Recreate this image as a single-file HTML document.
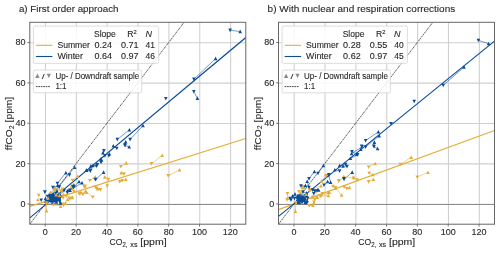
<!DOCTYPE html>
<html><head><meta charset="utf-8"><style>
html,body{margin:0;padding:0;background:#fff;width:500px;height:253px;overflow:hidden}
svg{display:block;will-change:transform}
text{font-family:"Liberation Sans",sans-serif;fill:#262626;stroke:#262626;stroke-width:0.1px}
</style></head><body>
<svg width="500" height="253" viewBox="0 0 500 253">
<clipPath id="c29"><rect x="29.8" y="22.3" width="216" height="201.9"/></clipPath>
<path d="M45.48 22.3V224.2M76.34 22.3V224.2M107.19 22.3V224.2M138.05 22.3V224.2M168.91 22.3V224.2M199.76 22.3V224.2M230.62 22.3V224.2M29.8 204.26H245.8M29.8 163.88H245.8M29.8 123.5H245.8M29.8 83.12H245.8M29.8 42.74H245.8" stroke="#cfcfcf" stroke-width="1.05" fill="none"/>
<g clip-path="url(#c29)">
<path d="M29.8 204.5H245.8" stroke="#8c8c8c" stroke-width="1" fill="none"/>
<path d="M29.8 206.33L245.8 138.49" stroke="#e4ad38" stroke-width="1.15" fill="none"/>
<path d="M29.8 217.9L245.8 37.56" stroke="#0b4c99" stroke-width="1.15" fill="none"/>
<path d="M29.8 224.2L184.09 22.3" stroke="#2a2a2a" stroke-width="0.75" stroke-dasharray="2.3 0.5 1.2 0.8" fill="none"/>
<path d="M230.1 30.3L240.2 31.5M215.6 58.5L193.9 79.3M193.8 91.6L197.4 98.2M129.4 129.8L117.3 139.5M143.0 125.6L130.1 139.5M125.7 141.9L124.7 144.9M129.2 146.9L125.0 145.6M113.3 145.9L116.8 148.4M103.9 150.8L102.9 152.8M109.4 153.8L108.9 155.8M104.9 155.8L100.9 158.8M101.6 160.0L101.0 162.4M97.4 164.8L90.8 166.0M90.8 170.2L86.6 170.2M92.8 165.6L96.4 166.2M86.2 170.4L90.4 171.0M103.6 172.2L95.8 179.4M74.6 167.3L58.8 186.6M65.9 172.7L57.4 183.4M79.0 181.6L73.7 187.5M82.0 182.8L70.0 190.2M70.1 190.2L73.0 186.8M73.9 185.0L67.3 192.5M49.0 195.0L51.5 197.0M53.0 194.5L55.5 197.5M48.5 200.0L51.0 201.5M54.0 201.0L56.5 202.0M58.5 195.5L58.0 199.5M50.5 198.5L53.0 202.5M55.0 196.0L59.5 201.5M47.0 202.0L45.5 198.5M52.0 199.5L56.0 193.5M60.5 197.5L60.5 203.0M53.1 187.8L57.8 185.4M64.0 190.7L60.1 194.7" stroke="#0b4c99" stroke-opacity="0.7" stroke-width="0.8" fill="none"/>
<path d="M179.6 169.8L168.2 175.8M162.2 155.4L151.4 163.8M126.2 163.0L120.8 166.6M121.2 172.7L124.0 174.0M125.8 179.4L119.8 181.8M104.8 177.0L108.4 179.4M95.2 177.0L89.8 180.6M77.8 176.2L72.5 180.4M85.6 190.8L92.8 197.2M95.5 187.0L98.0 188.8M79.2 194.0L81.0 192.5M70.0 198.5L67.5 199.5M62.0 204.0L65.5 203.0M54.4 189.0L62.8 190.8M50.2 193.5L55.0 188.3M61.1 191.1L55.9 194.9M46.6 210.8L46.4 203.9M53.1 204.4L60.6 206.3M63.5 205.3L65.4 203.4M63.5 194.4L66.3 196.3M69.2 198.2L72.0 197.3M72.0 187.8L73.9 191.6M62.5 189.2L50.6 192.3M46.7 203.0L53.4 203.8M80.4 193.4L86.4 192.2" stroke="#e4ad38" stroke-opacity="0.7" stroke-width="0.8" fill="none"/>
<path d="M177.8 171.5L179.6 167.9L181.4 171.5ZM170.0 174.1L168.2 177.7L166.4 174.1ZM160.4 157.1L162.2 153.5L164.0 157.1ZM153.2 162.1L151.4 165.7L149.6 162.1ZM124.4 164.7L126.2 161.1L128.0 164.7ZM122.6 164.9L120.8 168.5L119.0 164.9ZM119.4 174.4L121.2 170.8L123.0 174.4ZM125.8 172.3L124.0 175.9L122.2 172.3ZM124.0 181.1L125.8 177.5L127.6 181.1ZM121.6 180.1L119.8 183.7L118.0 180.1ZM124.0 178.9L122.2 182.5L120.4 178.9ZM103.0 178.7L104.8 175.1L106.6 178.7ZM110.2 177.7L108.4 181.3L106.6 177.7ZM109.0 184.3L107.2 187.9L105.4 184.3ZM93.4 178.7L95.2 175.1L97.0 178.7ZM91.6 178.9L89.8 182.5L88.0 178.9ZM76.0 177.9L77.8 174.3L79.6 177.9ZM74.3 178.7L72.5 182.3L70.7 178.7ZM70.1 186.8L71.9 183.2L73.7 186.8ZM83.8 192.5L85.6 188.9L87.4 192.5ZM94.6 195.5L92.8 199.1L91.0 195.5ZM83.0 187.7L84.8 184.1L86.6 187.7ZM97.3 185.3L95.5 188.9L93.7 185.3ZM96.2 190.5L98.0 186.9L99.8 190.5ZM102.3 188.1L100.5 191.7L98.7 188.1ZM70.0 188.3L71.8 184.7L73.6 188.3ZM86.2 184.9L84.4 188.5L82.6 184.9ZM81.0 192.3L79.2 195.9L77.4 192.3ZM79.2 194.2L81.0 190.6L82.8 194.2ZM84.8 192.8L83.0 196.4L81.2 192.8ZM71.8 196.8L70.0 200.4L68.2 196.8ZM65.7 201.2L67.5 197.6L69.3 201.2ZM70.7 199.2L72.5 195.6L74.3 199.2ZM63.8 202.3L62.0 205.9L60.2 202.3ZM63.7 204.7L65.5 201.1L67.3 204.7ZM98.2 186.7L96.4 190.3L94.6 186.7ZM52.6 190.7L54.4 187.1L56.2 190.7ZM64.6 189.1L62.8 192.7L61.0 189.1ZM40.6 193.7L38.8 197.3L37.0 193.7ZM36.1 201.3L37.9 197.7L39.7 201.3ZM48.4 195.2L50.2 191.6L52.0 195.2ZM56.8 186.6L55.0 190.2L53.2 186.6ZM62.9 189.4L61.1 193.0L59.3 189.4ZM54.1 196.6L55.9 193.0L57.7 196.6ZM44.8 212.5L46.6 208.9L48.4 212.5ZM48.2 202.2L46.4 205.8L44.6 202.2ZM54.9 202.7L53.1 206.3L51.3 202.7ZM58.8 208.0L60.6 204.4L62.4 208.0ZM65.3 203.6L63.5 207.2L61.7 203.6ZM63.6 205.1L65.4 201.5L67.2 205.1ZM61.7 196.1L63.5 192.5L65.3 196.1ZM68.1 194.6L66.3 198.2L64.5 194.6ZM71.0 196.5L69.2 200.1L67.4 196.5ZM70.2 199.0L72.0 195.4L73.8 199.0ZM70.2 189.5L72.0 185.9L73.8 189.5ZM75.7 189.9L73.9 193.5L72.1 189.9ZM82.2 191.7L80.4 195.3L78.6 191.7ZM84.6 193.9L86.4 190.3L88.2 193.9ZM87.0 184.5L85.2 188.1L83.4 184.5Z" fill="#e4ad38"/>
<path d="M47.5 197.0L50.0 194.8L54.0 194.2L57.5 195.0L58.5 198.5L57.5 202.0L53.0 202.6L49.0 202.0Z" fill="#0b4c99"/>
<path d="M231.9 28.6L230.1 32.2L228.3 28.6ZM238.4 33.2L240.2 29.6L242.0 33.2ZM213.8 60.2L215.6 56.6L217.4 60.2ZM195.7 77.6L193.9 81.2L192.1 77.6ZM195.6 89.9L193.8 93.5L192.0 89.9ZM195.6 99.9L197.4 96.3L199.2 99.9ZM167.6 96.9L165.8 100.5L164.0 96.9ZM127.6 131.5L129.4 127.9L131.2 131.5ZM119.1 137.8L117.3 141.4L115.5 137.8ZM141.2 127.3L143.0 123.7L144.8 127.3ZM131.9 137.8L130.1 141.4L128.3 137.8ZM123.9 143.6L125.7 140.0L127.5 143.6ZM126.5 143.2L124.7 146.8L122.9 143.2ZM127.4 148.6L129.2 145.0L131.0 148.6ZM126.8 143.9L125.0 147.5L123.2 143.9ZM111.5 147.6L113.3 144.0L115.1 147.6ZM118.6 146.7L116.8 150.3L115.0 146.7ZM105.7 149.1L103.9 152.7L102.1 149.1ZM101.1 154.5L102.9 150.9L104.7 154.5ZM107.6 155.5L109.4 151.9L111.2 155.5ZM110.7 154.1L108.9 157.7L107.1 154.1ZM106.7 154.1L104.9 157.7L103.1 154.1ZM99.1 160.5L100.9 156.9L102.7 160.5ZM99.8 161.7L101.6 158.1L103.4 161.7ZM102.8 160.7L101.0 164.3L99.2 160.7ZM99.2 163.1L97.4 166.7L95.6 163.1ZM89.0 167.7L90.8 164.1L92.6 167.7ZM92.6 168.5L90.8 172.1L89.0 168.5ZM84.8 171.9L86.6 168.3L88.4 171.9ZM91.0 167.3L92.8 163.7L94.6 167.3ZM98.2 164.5L96.4 168.1L94.6 164.5ZM84.4 172.1L86.2 168.5L88.0 172.1ZM92.2 169.3L90.4 172.9L88.6 169.3ZM101.8 173.9L103.6 170.3L105.4 173.9ZM97.6 177.7L95.8 181.3L94.0 177.7ZM72.8 169.0L74.6 165.4L76.4 169.0ZM60.6 184.9L58.8 188.5L57.0 184.9ZM64.1 174.4L65.9 170.8L67.7 174.4ZM59.2 181.7L57.4 185.3L55.6 181.7ZM71.3 173.3L69.5 176.9L67.7 173.3ZM77.2 183.3L79.0 179.7L80.8 183.3ZM75.5 185.8L73.7 189.4L71.9 185.8ZM80.2 184.5L82.0 180.9L83.8 184.5ZM71.8 188.5L70.0 192.1L68.2 188.5ZM54.7 185.8L52.9 189.4L51.1 185.8ZM46.6 190.3L44.8 193.9L43.0 190.3ZM97.0 177.7L95.2 181.3L93.4 177.7ZM70.0 189.4L68.2 193.0L66.4 189.4ZM68.3 191.9L70.1 188.3L71.9 191.9ZM74.8 185.1L73.0 188.7L71.2 185.1ZM72.1 186.7L73.9 183.1L75.7 186.7ZM69.1 190.8L67.3 194.4L65.5 190.8ZM47.2 196.7L49.0 193.1L50.8 196.7ZM53.3 195.3L51.5 198.9L49.7 195.3ZM54.8 192.8L53.0 196.4L51.2 192.8ZM53.7 199.2L55.5 195.6L57.3 199.2ZM46.7 201.7L48.5 198.1L50.3 201.7ZM52.8 199.8L51.0 203.4L49.2 199.8ZM55.8 199.3L54.0 202.9L52.2 199.3ZM54.7 203.7L56.5 200.1L58.3 203.7ZM56.7 197.2L58.5 193.6L60.3 197.2ZM59.8 197.8L58.0 201.4L56.2 197.8ZM52.3 196.8L50.5 200.4L48.7 196.8ZM51.2 204.2L53.0 200.6L54.8 204.2ZM53.2 197.7L55.0 194.1L56.8 197.7ZM61.3 199.8L59.5 203.4L57.7 199.8ZM48.8 200.3L47.0 203.9L45.2 200.3ZM43.7 200.2L45.5 196.6L47.3 200.2ZM50.2 201.2L52.0 197.6L53.8 201.2ZM57.8 191.8L56.0 195.4L54.2 191.8ZM62.3 195.8L60.5 199.4L58.7 195.8ZM58.7 204.7L60.5 201.1L62.3 204.7ZM46.9 190.2L45.1 193.8L43.3 190.2ZM43.0 198.5L41.2 202.1L39.4 198.5ZM54.9 186.1L53.1 189.7L51.3 186.1ZM56.0 187.1L57.8 183.5L59.6 187.1ZM61.0 185.6L59.2 189.2L57.4 185.6ZM65.8 189.0L64.0 192.6L62.2 189.0ZM58.3 196.4L60.1 192.8L61.9 196.4ZM55.2 192.7L57.0 189.1L58.8 192.7ZM48.2 195.7L50.0 192.1L51.8 195.7ZM59.3 194.8L57.5 198.4L55.7 194.8ZM49.7 198.2L51.5 194.6L53.3 198.2ZM56.8 197.3L55.0 200.9L53.2 197.3ZM55.2 201.2L57.0 197.6L58.8 201.2ZM50.8 197.3L49.0 200.9L47.2 197.3ZM52.2 199.7L54.0 196.1L55.8 199.7ZM53.8 193.3L52.0 196.9L50.2 193.3ZM57.2 199.7L59.0 196.1L60.8 199.7ZM49.3 194.8L47.5 198.4L45.7 194.8ZM44.2 202.7L46.0 199.1L47.8 202.7ZM58.3 198.8L56.5 202.4L54.7 198.8Z" fill="#0b4c99"/>
<path d="M64.3 187.5L62.5 191.1L60.7 187.5ZM48.8 194.0L50.6 190.4L52.4 194.0ZM56.4 187.5L54.6 191.1L52.8 187.5ZM57.7 197.2L59.5 193.6L61.3 197.2ZM64.8 196.3L63.0 199.9L61.2 196.3ZM46.2 199.7L48.0 196.1L49.8 199.7ZM54.4 196.4L56.2 192.8L58.0 196.4ZM48.5 201.3L46.7 204.9L44.9 201.3ZM51.6 205.5L53.4 201.9L55.2 205.5Z" fill="#e4ad38"/>
</g>
<rect x="29.8" y="22.3" width="216" height="201.9" fill="none" stroke="#666" stroke-width="1.0"/>
<path d="M45.23 224.2V226.6M76.09 224.2V226.6M106.94 224.2V226.6M137.8 224.2V226.6M168.66 224.2V226.6M199.51 224.2V226.6M230.37 224.2V226.6M29.8 204.01H27.4M29.8 163.63H27.4M29.8 123.25H27.4M29.8 82.87H27.4M29.8 42.49H27.4" stroke="#666" stroke-width="0.9" fill="none"/>
<text x="45.23" y="235.1" font-size="8.6" text-anchor="middle" textLength="5" lengthAdjust="spacingAndGlyphs">0</text>
<text x="76.09" y="235.1" font-size="8.6" text-anchor="middle" textLength="10" lengthAdjust="spacingAndGlyphs">20</text>
<text x="106.94" y="235.1" font-size="8.6" text-anchor="middle" textLength="10" lengthAdjust="spacingAndGlyphs">40</text>
<text x="137.8" y="235.1" font-size="8.6" text-anchor="middle" textLength="10" lengthAdjust="spacingAndGlyphs">60</text>
<text x="168.66" y="235.1" font-size="8.6" text-anchor="middle" textLength="10" lengthAdjust="spacingAndGlyphs">80</text>
<text x="199.51" y="235.1" font-size="8.6" text-anchor="middle" textLength="15" lengthAdjust="spacingAndGlyphs">100</text>
<text x="230.37" y="235.1" font-size="8.6" text-anchor="middle" textLength="15" lengthAdjust="spacingAndGlyphs">120</text>
<text x="25.6" y="207.01" font-size="8.6" text-anchor="end" textLength="5" lengthAdjust="spacingAndGlyphs">0</text>
<text x="25.6" y="166.63" font-size="8.6" text-anchor="end" textLength="10" lengthAdjust="spacingAndGlyphs">20</text>
<text x="25.6" y="126.25" font-size="8.6" text-anchor="end" textLength="10" lengthAdjust="spacingAndGlyphs">40</text>
<text x="25.6" y="85.87" font-size="8.6" text-anchor="end" textLength="10" lengthAdjust="spacingAndGlyphs">60</text>
<text x="25.6" y="45.49" font-size="8.6" text-anchor="end" textLength="10" lengthAdjust="spacingAndGlyphs">80</text>
<text x="109.5" y="245.2" font-size="9.0" textLength="12.9" lengthAdjust="spacingAndGlyphs">CO</text>
<text x="122.5" y="246.9" font-size="6.4" textLength="5" lengthAdjust="spacingAndGlyphs">2,</text>
<text x="130.3" y="246.9" font-size="6.4" textLength="7.2" lengthAdjust="spacingAndGlyphs">xs</text>
<text x="140.3" y="245.2" font-size="9.0" textLength="26.3" lengthAdjust="spacingAndGlyphs">[ppm]</text>
<g transform="translate(11.9 150.2) rotate(-90)"><text x="0" y="0" font-size="9.0" textLength="20.9" lengthAdjust="spacingAndGlyphs">ffCO</text><text x="21.1" y="1.7" font-size="6.4" textLength="3.6" lengthAdjust="spacingAndGlyphs">2</text><text x="27.8" y="0" font-size="9.0" textLength="25.6" lengthAdjust="spacingAndGlyphs">[ppm]</text></g>
<text x="18.9" y="11.6" font-size="9.0" textLength="99.6" lengthAdjust="spacingAndGlyphs">a) First order approach</text>
<rect x="33.4" y="26.1" width="125.3" height="37.3" rx="1.5" fill="#fff" fill-opacity="0.86" stroke="#d4d4d4" stroke-width="0.8"/>
<text x="94" y="36.6" font-size="8.4" textLength="21.8" lengthAdjust="spacingAndGlyphs">Slope</text>
<text x="127.3" y="36.6" font-size="8.4" textLength="9.5" lengthAdjust="spacingAndGlyphs">R<tspan font-size="5.6" dy="-3.0">2</tspan></text>
<text x="145.4" y="36.6" font-size="8.4" textLength="6.5" lengthAdjust="spacingAndGlyphs" font-style="italic">N</text>
<path d="M35.9 45.3H52.4" stroke="#e4ad38" stroke-width="1.1"/>
<text x="57.4" y="47.8" font-size="8.4" textLength="32.6" lengthAdjust="spacingAndGlyphs">Summer</text>
<text x="94.4" y="47.8" font-size="8.4" textLength="17.6" lengthAdjust="spacingAndGlyphs">0.24</text>
<text x="121" y="47.8" font-size="8.4" textLength="17.6" lengthAdjust="spacingAndGlyphs">0.71</text>
<text x="145.6" y="47.8" font-size="8.4" textLength="9.4" lengthAdjust="spacingAndGlyphs">41</text>
<path d="M35.9 56.5H52.4" stroke="#0b4c99" stroke-width="1.1"/>
<text x="57.4" y="59" font-size="8.4" textLength="25.6" lengthAdjust="spacingAndGlyphs">Winter</text>
<text x="94.4" y="59" font-size="8.4" textLength="17.6" lengthAdjust="spacingAndGlyphs">0.64</text>
<text x="121" y="59" font-size="8.4" textLength="17.6" lengthAdjust="spacingAndGlyphs">0.97</text>
<text x="145.6" y="59" font-size="8.4" textLength="9.4" lengthAdjust="spacingAndGlyphs">46</text>
<rect x="33.4" y="70.1" width="108.3" height="22.7" rx="1.5" fill="#fff" fill-opacity="0.86" stroke="#d4d4d4" stroke-width="0.8"/>
<path d="M35.2 78L37.4 73.6L39.6 78Z" fill="#8a8a8a"/>
<path d="M46.7 73.7L48.8 77.9L50.9 73.7Z" fill="#8a8a8a"/>
<text x="42.1" y="78.7" font-size="7.2" font-weight="bold" font-style="italic">/</text>
<text x="55.4" y="78.6" font-size="8.4" textLength="83.8" lengthAdjust="spacingAndGlyphs">Up- / Downdraft sample</text>
<path d="M35.9 86.6H50.6" stroke="#333" stroke-width="0.9" stroke-dasharray="1.7 0.75"/>
<text x="55.4" y="88.8" font-size="8.4" textLength="11" lengthAdjust="spacingAndGlyphs">1:1</text>
<clipPath id="c278"><rect x="278.5" y="22.3" width="216" height="201.9"/></clipPath>
<path d="M294.18 22.3V224.2M325.04 22.3V224.2M355.89 22.3V224.2M386.75 22.3V224.2M417.61 22.3V224.2M448.46 22.3V224.2M479.32 22.3V224.2M278.5 204.26H494.5M278.5 163.88H494.5M278.5 123.5H494.5M278.5 83.12H494.5M278.5 42.74H494.5" stroke="#cfcfcf" stroke-width="1.05" fill="none"/>
<g clip-path="url(#c278)">
<path d="M278.5 204.5H494.5" stroke="#8c8c8c" stroke-width="1" fill="none"/>
<path d="M278.5 209.66L494.5 130.52" stroke="#e4ad38" stroke-width="1.15" fill="none"/>
<path d="M278.5 216.33L494.5 41.08" stroke="#0b4c99" stroke-width="1.15" fill="none"/>
<path d="M278.5 224.2L432.79 22.3" stroke="#2a2a2a" stroke-width="0.75" stroke-dasharray="2.3 0.5 1.2 0.8" fill="none"/>
<path d="M478.4 40.4L488.6 43.6M464.0 67.0L443.2 85.4M378.4 131.8L365.6 140.6M379.2 135.8L365.6 147.0M374.4 142.2L373.6 146.2M377.6 148.6L374.0 146.8M361.6 146.2L360.8 149.4M352.0 151.8L356.8 154.2M362.0 146.8L351.6 153.6M357.6 154.8L350.4 158.4M345.6 164.4L339.6 165.6M339.6 171.0L334.8 169.8M323.4 165.6L318.0 173.4M314.4 171.6L309.0 178.8M352.2 172.2L344.0 179.4M343.0 166.0L347.0 166.5M312.6 190.0L318.6 190.0M324.0 185.2L327.6 181.6M330.6 182.2L328.8 175.6M292.5 196.0L294.5 198.5M291.0 200.0L295.0 194.0M303.0 192.0L306.5 193.0M301.0 186.0L305.5 185.5M309.0 187.5L307.2 181.4M314.7 191.0L317.3 190.0" stroke="#0b4c99" stroke-opacity="0.7" stroke-width="0.8" fill="none"/>
<path d="M428.0 172.3L417.2 177.1M411.2 157.2L400.4 164.4M375.2 163.6L368.6 167.2M369.2 173.2L372.8 174.6M373.4 179.4L368.6 181.8M353.6 177.6L357.2 180.0M344.0 177.0L338.6 181.2M346.8 188.6L349.6 187.6M326.4 175.6L321.6 181.0M321.0 185.8L310.2 190.0M287.4 193.6L287.4 198.4M300.6 193.0L304.2 187.6M313.2 197.2L317.4 197.2M321.0 196.0L329.4 192.4M333.0 186.4L335.4 188.2M335.6 187.8L341.6 195.0M295.8 202.6L295.4 211.2M343.8 176.4L353.4 178.2M309.2 205.8L312.8 205.2M314.0 202.2L316.4 197.4M320.0 196.2L328.4 195.6" stroke="#e4ad38" stroke-opacity="0.7" stroke-width="0.8" fill="none"/>
<path d="M426.2 174.0L428.0 170.4L429.8 174.0ZM419.0 175.4L417.2 179.0L415.4 175.4ZM409.4 158.9L411.2 155.3L413.0 158.9ZM402.2 162.7L400.4 166.3L398.6 162.7ZM373.4 165.3L375.2 161.7L377.0 165.3ZM370.4 165.5L368.6 169.1L366.8 165.5ZM371.0 171.5L369.2 175.1L367.4 171.5ZM371.0 176.3L372.8 172.7L374.6 176.3ZM371.6 181.1L373.4 177.5L375.2 181.1ZM370.4 180.1L368.6 183.7L366.8 180.1ZM351.8 179.3L353.6 175.7L355.4 179.3ZM359.0 178.3L357.2 181.9L355.4 178.3ZM342.2 178.7L344.0 175.1L345.8 178.7ZM340.4 179.5L338.6 183.1L336.8 179.5ZM346.0 185.3L344.2 188.9L342.4 185.3ZM348.6 186.9L346.8 190.5L345.0 186.9ZM347.8 189.3L349.6 185.7L351.4 189.3ZM326.6 194.3L328.4 190.7L330.2 194.3ZM324.2 192.1L322.4 195.7L320.6 192.1ZM328.2 173.9L326.4 177.5L324.6 173.9ZM319.8 182.7L321.6 179.1L323.4 182.7ZM319.2 187.5L321.0 183.9L322.8 187.5ZM312.0 188.3L310.2 191.9L308.4 188.3ZM318.0 190.1L316.2 193.7L314.4 190.1ZM289.2 191.9L287.4 195.5L285.6 191.9ZM285.6 200.1L287.4 196.5L289.2 200.1ZM298.8 194.7L300.6 191.1L302.4 194.7ZM306.0 185.9L304.2 189.5L302.4 185.9ZM315.0 195.5L313.2 199.1L311.4 195.5ZM315.6 198.9L317.4 195.3L319.2 198.9ZM322.8 194.3L321.0 197.9L319.2 194.3ZM327.6 194.1L329.4 190.5L331.2 194.1ZM334.8 184.7L333.0 188.3L331.2 184.7ZM333.6 189.9L335.4 186.3L337.2 189.9ZM341.0 178.9L339.2 182.5L337.4 178.9ZM337.4 186.1L335.6 189.7L333.8 186.1ZM339.8 196.7L341.6 193.1L343.4 196.7ZM327.6 174.7L325.8 178.3L324.0 174.7ZM342.0 178.1L343.8 174.5L345.6 178.1ZM355.2 176.5L353.4 180.1L351.6 176.5ZM288.8 198.1L287.0 201.7L285.2 198.1ZM311.0 204.1L309.2 207.7L307.4 204.1ZM311.0 206.9L312.8 203.3L314.6 206.9ZM315.8 200.5L314.0 204.1L312.2 200.5ZM314.6 199.1L316.4 195.5L318.2 199.1ZM321.8 194.5L320.0 198.1L318.2 194.5ZM326.6 197.3L328.4 193.7L330.2 197.3Z" fill="#e4ad38"/>
<path d="M297.0 198.0L300.0 196.6L304.0 196.6L306.0 198.5L305.2 201.5L301.0 202.3L297.5 201.5Z" fill="#0b4c99"/>
<path d="M480.2 38.7L478.4 42.3L476.6 38.7ZM486.8 45.3L488.6 41.7L490.4 45.3ZM462.2 68.7L464.0 65.1L465.8 68.7ZM445.0 83.7L443.2 87.3L441.4 83.7ZM416.0 99.7L414.2 103.3L412.4 99.7ZM392.8 121.9L391.0 125.5L389.2 121.9ZM376.6 133.5L378.4 129.9L380.2 133.5ZM367.4 138.9L365.6 142.5L363.8 138.9ZM377.4 137.5L379.2 133.9L381.0 137.5ZM367.4 145.3L365.6 148.9L363.8 145.3ZM372.6 143.9L374.4 140.3L376.2 143.9ZM375.4 144.5L373.6 148.1L371.8 144.5ZM375.8 150.3L377.6 146.7L379.4 150.3ZM375.8 145.1L374.0 148.7L372.2 145.1ZM363.4 144.5L361.6 148.1L359.8 144.5ZM359.0 151.1L360.8 147.5L362.6 151.1ZM353.8 150.1L352.0 153.7L350.2 150.1ZM355.0 155.9L356.8 152.3L358.6 155.9ZM363.8 145.1L362.0 148.7L360.2 145.1ZM349.8 155.3L351.6 151.7L353.4 155.3ZM359.4 153.1L357.6 156.7L355.8 153.1ZM348.6 160.1L350.4 156.5L352.2 160.1ZM347.4 162.7L345.6 166.3L343.8 162.7ZM337.8 167.3L339.6 163.7L341.4 167.3ZM341.4 169.3L339.6 172.9L337.8 169.3ZM333.0 171.5L334.8 167.9L336.6 171.5ZM321.6 167.3L323.4 163.7L325.2 167.3ZM319.8 171.7L318.0 175.3L316.2 171.7ZM312.6 173.3L314.4 169.7L316.2 173.3ZM310.8 177.1L309.0 180.7L307.2 177.1ZM330.6 172.9L328.8 176.5L327.0 172.9ZM350.4 173.9L352.2 170.3L354.0 173.9ZM345.8 177.7L344.0 181.3L342.2 177.7ZM341.2 167.7L343.0 164.1L344.8 167.7ZM348.8 164.8L347.0 168.4L345.2 164.8ZM314.4 188.3L312.6 191.9L310.8 188.3ZM316.8 191.7L318.6 188.1L320.4 191.7ZM325.8 183.5L324.0 187.1L322.2 183.5ZM325.8 183.3L327.6 179.7L329.4 183.3ZM328.8 183.9L330.6 180.3L332.4 183.9ZM330.6 173.9L328.8 177.5L327.0 173.9ZM345.6 176.9L343.8 180.5L342.0 176.9ZM315.6 191.9L313.8 195.5L312.0 191.9ZM295.8 197.7L297.6 194.1L299.4 197.7ZM301.3 194.3L299.5 197.9L297.7 194.3ZM300.2 197.7L302.0 194.1L303.8 197.7ZM306.9 194.3L305.1 197.9L303.3 194.3ZM305.2 197.7L307.0 194.1L308.8 197.7ZM298.8 196.6L297.0 200.2L295.2 196.6ZM298.3 200.0L300.1 196.4L301.9 200.0ZM303.8 196.6L302.0 200.2L300.2 196.6ZM302.7 200.0L304.5 196.4L306.3 200.0ZM309.4 196.6L307.6 200.2L305.8 196.6ZM295.2 202.3L297.0 198.7L298.8 202.3ZM301.3 198.9L299.5 202.5L297.7 198.9ZM300.8 202.3L302.6 198.7L304.4 202.3ZM306.3 198.9L304.5 202.5L302.7 198.9ZM305.2 202.3L307.0 198.7L308.8 202.3ZM299.4 200.9L297.6 204.5L295.8 200.9ZM297.7 204.3L299.5 200.7L301.3 204.3ZM303.8 200.9L302.0 204.5L300.2 200.9ZM303.3 204.3L305.1 200.7L306.9 204.3ZM308.8 200.9L307.0 204.5L305.2 200.9ZM290.7 197.7L292.5 194.1L294.3 197.7ZM296.3 196.8L294.5 200.4L292.7 196.8ZM292.8 198.3L291.0 201.9L289.2 198.3ZM293.2 195.7L295.0 192.1L296.8 195.7ZM304.8 190.3L303.0 193.9L301.2 190.3ZM304.7 194.7L306.5 191.1L308.3 194.7ZM302.8 184.3L301.0 187.9L299.2 184.3ZM303.7 187.2L305.5 183.6L307.3 187.2ZM310.8 185.8L309.0 189.4L307.2 185.8ZM305.4 183.1L307.2 179.5L309.0 183.1ZM316.5 189.3L314.7 192.9L312.9 189.3ZM315.5 191.7L317.3 188.1L319.1 191.7ZM291.8 196.8L290.0 200.4L288.2 196.8Z" fill="#0b4c99"/>
<path d="M297.6 200.9L295.8 204.5L294.0 200.9ZM293.6 212.9L295.4 209.3L297.2 212.9ZM300.8 190.1L299.0 193.7L297.2 190.1ZM300.7 189.2L302.5 185.6L304.3 189.2ZM304.2 196.1L306.0 192.5L307.8 196.1ZM311.3 188.8L309.5 192.4L307.7 188.8ZM310.2 198.7L312.0 195.1L313.8 198.7ZM316.5 198.0L314.7 201.6L312.9 198.0ZM312.0 204.8L313.8 201.2L315.6 204.8Z" fill="#e4ad38"/>
</g>
<rect x="278.5" y="22.3" width="216" height="201.9" fill="none" stroke="#666" stroke-width="1.0"/>
<path d="M293.93 224.2V226.6M324.79 224.2V226.6M355.64 224.2V226.6M386.5 224.2V226.6M417.36 224.2V226.6M448.21 224.2V226.6M479.07 224.2V226.6M278.5 204.01H276.1M278.5 163.63H276.1M278.5 123.25H276.1M278.5 82.87H276.1M278.5 42.49H276.1" stroke="#666" stroke-width="0.9" fill="none"/>
<text x="293.93" y="235.1" font-size="8.6" text-anchor="middle" textLength="5" lengthAdjust="spacingAndGlyphs">0</text>
<text x="324.79" y="235.1" font-size="8.6" text-anchor="middle" textLength="10" lengthAdjust="spacingAndGlyphs">20</text>
<text x="355.64" y="235.1" font-size="8.6" text-anchor="middle" textLength="10" lengthAdjust="spacingAndGlyphs">40</text>
<text x="386.5" y="235.1" font-size="8.6" text-anchor="middle" textLength="10" lengthAdjust="spacingAndGlyphs">60</text>
<text x="417.36" y="235.1" font-size="8.6" text-anchor="middle" textLength="10" lengthAdjust="spacingAndGlyphs">80</text>
<text x="448.21" y="235.1" font-size="8.6" text-anchor="middle" textLength="15" lengthAdjust="spacingAndGlyphs">100</text>
<text x="479.07" y="235.1" font-size="8.6" text-anchor="middle" textLength="15" lengthAdjust="spacingAndGlyphs">120</text>
<text x="274.3" y="207.01" font-size="8.6" text-anchor="end" textLength="5" lengthAdjust="spacingAndGlyphs">0</text>
<text x="274.3" y="166.63" font-size="8.6" text-anchor="end" textLength="10" lengthAdjust="spacingAndGlyphs">20</text>
<text x="274.3" y="126.25" font-size="8.6" text-anchor="end" textLength="10" lengthAdjust="spacingAndGlyphs">40</text>
<text x="274.3" y="85.87" font-size="8.6" text-anchor="end" textLength="10" lengthAdjust="spacingAndGlyphs">60</text>
<text x="274.3" y="45.49" font-size="8.6" text-anchor="end" textLength="10" lengthAdjust="spacingAndGlyphs">80</text>
<text x="358.2" y="245.2" font-size="9.0" textLength="12.9" lengthAdjust="spacingAndGlyphs">CO</text>
<text x="371.2" y="246.9" font-size="6.4" textLength="5" lengthAdjust="spacingAndGlyphs">2,</text>
<text x="379" y="246.9" font-size="6.4" textLength="7.2" lengthAdjust="spacingAndGlyphs">xs</text>
<text x="389" y="245.2" font-size="9.0" textLength="26.3" lengthAdjust="spacingAndGlyphs">[ppm]</text>
<g transform="translate(260.6 150.2) rotate(-90)"><text x="0" y="0" font-size="9.0" textLength="20.9" lengthAdjust="spacingAndGlyphs">ffCO</text><text x="21.1" y="1.7" font-size="6.4" textLength="3.6" lengthAdjust="spacingAndGlyphs">2</text><text x="27.8" y="0" font-size="9.0" textLength="25.6" lengthAdjust="spacingAndGlyphs">[ppm]</text></g>
<text x="267.6" y="11.6" font-size="9.0" textLength="187.6" lengthAdjust="spacingAndGlyphs">b) With nuclear and respiration corrections</text>
<rect x="282.1" y="26.1" width="125.3" height="37.3" rx="1.5" fill="#fff" fill-opacity="0.86" stroke="#d4d4d4" stroke-width="0.8"/>
<text x="342.7" y="36.6" font-size="8.4" textLength="21.8" lengthAdjust="spacingAndGlyphs">Slope</text>
<text x="376" y="36.6" font-size="8.4" textLength="9.5" lengthAdjust="spacingAndGlyphs">R<tspan font-size="5.6" dy="-3.0">2</tspan></text>
<text x="394.1" y="36.6" font-size="8.4" textLength="6.5" lengthAdjust="spacingAndGlyphs" font-style="italic">N</text>
<path d="M284.6 45.3H301.1" stroke="#e4ad38" stroke-width="1.1"/>
<text x="306.1" y="47.8" font-size="8.4" textLength="32.6" lengthAdjust="spacingAndGlyphs">Summer</text>
<text x="343.1" y="47.8" font-size="8.4" textLength="17.6" lengthAdjust="spacingAndGlyphs">0.28</text>
<text x="369.7" y="47.8" font-size="8.4" textLength="17.6" lengthAdjust="spacingAndGlyphs">0.55</text>
<text x="394.3" y="47.8" font-size="8.4" textLength="9.4" lengthAdjust="spacingAndGlyphs">40</text>
<path d="M284.6 56.5H301.1" stroke="#0b4c99" stroke-width="1.1"/>
<text x="306.1" y="59" font-size="8.4" textLength="25.6" lengthAdjust="spacingAndGlyphs">Winter</text>
<text x="343.1" y="59" font-size="8.4" textLength="17.6" lengthAdjust="spacingAndGlyphs">0.62</text>
<text x="369.7" y="59" font-size="8.4" textLength="17.6" lengthAdjust="spacingAndGlyphs">0.97</text>
<text x="394.3" y="59" font-size="8.4" textLength="9.4" lengthAdjust="spacingAndGlyphs">45</text>
<rect x="282.1" y="70.1" width="108.3" height="22.7" rx="1.5" fill="#fff" fill-opacity="0.86" stroke="#d4d4d4" stroke-width="0.8"/>
<path d="M283.9 78L286.1 73.6L288.3 78Z" fill="#8a8a8a"/>
<path d="M295.4 73.7L297.5 77.9L299.6 73.7Z" fill="#8a8a8a"/>
<text x="290.8" y="78.7" font-size="7.2" font-weight="bold" font-style="italic">/</text>
<text x="304.1" y="78.6" font-size="8.4" textLength="83.8" lengthAdjust="spacingAndGlyphs">Up- / Downdraft sample</text>
<path d="M284.6 86.6H299.3" stroke="#333" stroke-width="0.9" stroke-dasharray="1.7 0.75"/>
<text x="304.1" y="88.8" font-size="8.4" textLength="11" lengthAdjust="spacingAndGlyphs">1:1</text>
</svg>
</body></html>
